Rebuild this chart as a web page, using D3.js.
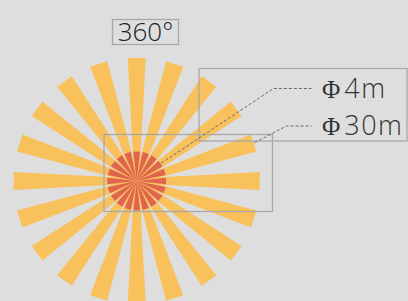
<!DOCTYPE html>
<html><head><meta charset="utf-8">
<script src="https://cdn.jsdelivr.net/npm/d3@7/dist/d3.min.js"></script>
<style>html,body{margin:0;padding:0;background:#dedede;}svg{display:block;}</style>
</head><body>
<svg id="chart" width="408" height="301"></svg>
<script>
// ---- data ----
const beamAngles = [0,18,36,54,72,90,108,126,144,162,180,198,216,234,252,270,288,306,324,342];
const rangeSymbols = ["Φ", "Φ"];
const rangeLabels = ["4m", "30m"];
const rangeValues = [4, 30];
const coverageLabel = "360°";

const W = 408, H = 301;
const cx = 136.7, cy = 181;
const svg = d3.select("#chart");
svg.append("rect").attr("width", W).attr("height", H).attr("fill", "#dedede");

const angle = d3.scaleLinear().domain([0, 360]).range([0, 2 * Math.PI]);
const radius = d3.scaleOrdinal().domain(rangeValues).range([29.5, 123]);

const g = svg.append("g").attr("transform", `translate(${cx},${cy})`);

const far = rangeValues[1];
const R = radius(far);
function pt(a, r, off) {
  const t = angle(a);
  return [Math.sin(t) * r + Math.cos(t) * off, -Math.cos(t) * r + Math.sin(t) * off];
}
g.selectAll("path.far").data(beamAngles).join("path")
  .attr("class", "far")
  .attr("d", a => d3.line()([pt(a, 0, -2.4), pt(a, R, -9), pt(a, R, 9), pt(a, 0, 2.4)]) + "Z")
  .attr("fill", "#f8c15c");

const near = rangeValues[0];
const arc = d3.arc().innerRadius(0).outerRadius(radius(near));
g.selectAll("path.near").data(beamAngles).join("path")
  .attr("class", "near")
  .attr("d", a => arc({startAngle: angle(a - 6.5), endAngle: angle(a + 6.5)}))
  .attr("fill", "#e0654f");

const boxStroke = "#a8a8a8";
svg.append("rect").attr("x", 112.5).attr("y", 19.5).attr("width", 66).attr("height", 25)
  .attr("fill", "none").attr("stroke", boxStroke).attr("stroke-width", 1.3);
svg.append("rect").attr("x", 199).attr("y", 68.5).attr("width", 208).attr("height", 72.5)
  .attr("fill", "none").attr("stroke", boxStroke).attr("stroke-width", 1.3);
svg.append("rect").attr("x", 104).attr("y", 134.5).attr("width", 168.5).attr("height", 77)
  .attr("fill", "none").attr("stroke", boxStroke).attr("stroke-width", 1.3);

const font = "'Open Sans', 'Noto Sans', sans-serif";
svg.append("text").attr("x", 145.5).attr("y", 41).attr("text-anchor", "middle")
  .attr("font-family", font).attr("font-weight", 300).attr("font-size", 26)
  .attr("fill", "#222").text(coverageLabel);

const leaderAngles = [54, 72];
const labelY = [88.5, 126];
const elbowX = [273.5, 286.5];
rangeValues.forEach((v, i) => {
  const p = pt(leaderAngles[i], radius(v) + 1, 0);
  const tip = [cx + p[0], cy + p[1]];
  svg.append("path")
    .attr("d", d3.line()([tip, [elbowX[i], labelY[i]], [311.5, labelY[i]]]))
    .attr("fill", "none").attr("stroke", "#6a6a6a").attr("stroke-width", 1)
    .attr("stroke-dasharray", "3,2");
  const t = svg.append("text").attr("x", 322).attr("y", labelY[i] + 9)
    .attr("font-size", 27).attr("fill", "#333");
  t.append("tspan").attr("font-family", "'Liberation Serif', 'DejaVu Serif', serif")
    .attr("font-size", 25).text(rangeSymbols[i]);
  t.append("tspan").attr("dx", 4).attr("font-family", font).attr("font-weight", 300)
    .attr("letter-spacing", 1.5).text(rangeLabels[i]);
});
</script>
</body></html>
